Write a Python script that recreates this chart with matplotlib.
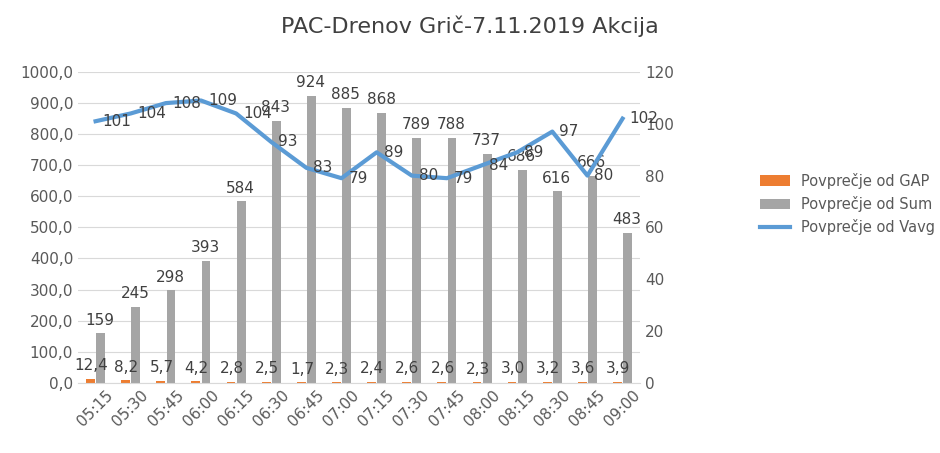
import numpy as np
import matplotlib.pyplot as plt

times = ["05:15", "05:30", "05:45", "06:00", "06:15", "06:30", "06:45", "07:00",
         "07:15", "07:30", "07:45", "08:00", "08:15", "08:30", "08:45", "09:00"]
gap = [12.4, 8.2, 5.7, 4.2, 2.8, 2.5, 1.7, 2.3, 2.4, 2.6, 2.6, 2.3, 3.0, 3.2, 3.6, 3.9]
sums = [159, 245, 298, 393, 584, 843, 924, 885, 868, 789, 788, 737, 686, 616, 666, 483]
vavg = [101, 104, 108, 109, 104, 93, 83, 79, 89, 80, 79, 84, 89, 97, 80, 102]

fmt = lambda v: f"{v:.1f}".replace(".", ",")

fig = plt.figure(figsize=(9.4, 4.53), dpi=100)
ax = fig.add_axes([0.083, 0.155, 0.598, 0.686])
ax2 = ax.twinx()

x = np.arange(len(times))
w = 0.25
ax.bar(x - w / 2 - 0.02, gap, w, color="#ED7D31", label="Povprečje od GAP")
ax.bar(x + w / 2 + 0.02, sums, w, color="#A5A5A5", label="Povprečje od Sum")
ax2.plot(x, vavg, color="#5B9BD5", lw=3, label="Povprečje od Vavg")

for i in x:
    ax.annotate(fmt(gap[i]), (x[i] - w / 2, gap[i]), xytext=(0, 4),
                textcoords="offset points", ha="center", va="bottom", fontsize=11, color="#404040")
    ax.annotate(str(sums[i]), (x[i] + w / 2, sums[i]), xytext=(0, 4),
                textcoords="offset points", ha="center", va="bottom", fontsize=11, color="#404040")
    ax2.annotate(str(vavg[i]), (x[i], vavg[i]), xytext=(5, 0),
                 textcoords="offset points", ha="left", va="center", fontsize=11, color="#404040")

ax.set_ylim(0, 1000)
ax.set_yticks(np.arange(0, 1001, 100))
ax.set_yticklabels([fmt(v) for v in np.arange(0, 1001, 100)])
ax2.set_ylim(0, 120)
ax2.set_yticks(np.arange(0, 121, 20))
ax.set_xlim(-0.5, len(times) - 0.5)
ax.set_xticks(x)
ax.set_xticklabels(times, rotation=45)
for a in (ax, ax2):
    a.tick_params(length=0, labelsize=11, labelcolor="#595959")
    for s in a.spines.values():
        s.set_visible(False)
ax.spines["bottom"].set_visible(True)
ax.spines["bottom"].set_color("#D9D9D9")
ax.grid(axis="y", color="#D9D9D9", lw=0.8)
ax.set_axisbelow(True)

fig.suptitle("PAC-Drenov Grič-7.11.2019 Akcija", x=0.5, y=0.965, fontsize=16, color="#404040")

h1, l1 = ax.get_legend_handles_labels()
h2, l2 = ax2.get_legend_handles_labels()
fig.legend(h1 + h2, l1 + l2, loc="center left", bbox_to_anchor=(0.795, 0.55),
           frameon=False, fontsize=10.5, labelcolor="#595959")

fig.savefig("out.png", dpi=100)
